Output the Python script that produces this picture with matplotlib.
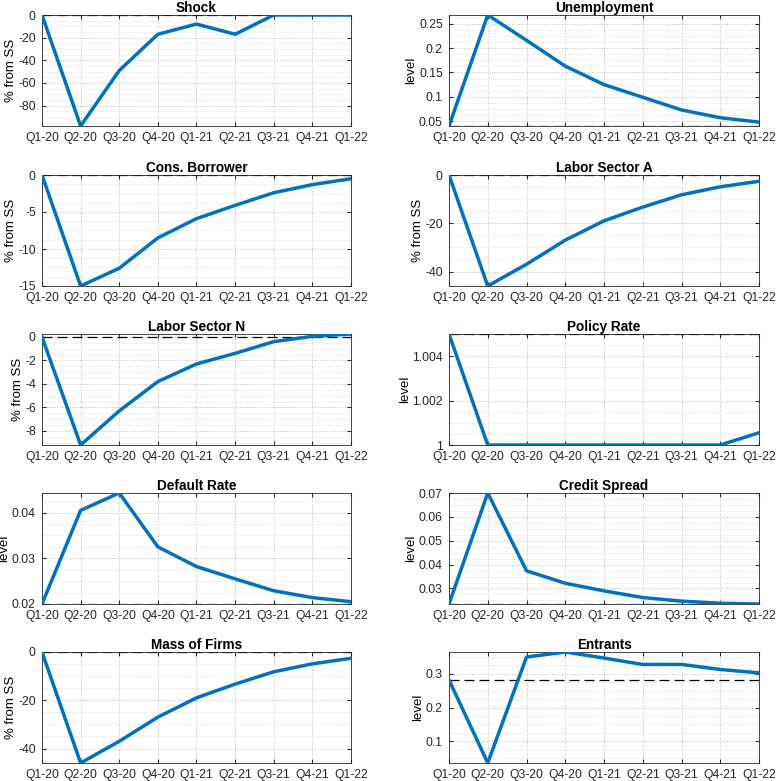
import numpy as np
import matplotlib
matplotlib.use("Agg")
import matplotlib.pyplot as plt
from matplotlib.ticker import AutoMinorLocator

plt.rcParams['font.family'] = ['Liberation Sans', 'DejaVu Sans']
plt.rcParams['font.size'] = 9

quarters = ["Q1-20", "Q2-20", "Q3-20", "Q4-20", "Q1-21", "Q2-21", "Q3-21", "Q4-21", "Q1-22"]

shock = [0, -98, -49, -17, -8, -17, 0, 0, 0]
unemployment = [0.040, 0.268, 0.216, 0.163, 0.125, 0.099, 0.073, 0.057, 0.048]
cons_borrower = [0, -15.0, -12.6, -8.5, -5.9, -4.1, -2.4, -1.3, -0.5]
labor_a = [0, -46, -37, -27, -19, -13.3, -8.2, -4.9, -2.6]
labor_n = [0, -9.2, -6.3, -3.8, -2.3, -1.4, -0.4, 0.05, 0.25]
policy_rate = [1.005, 1.0, 1.0, 1.0, 1.0, 1.0, 1.0, 1.0, 1.00055]
default_rate = [0.0200, 0.0405, 0.0443, 0.0325, 0.0282, 0.0255, 0.0229, 0.0214, 0.0205]
credit_spread = [0.0235, 0.0700, 0.0374, 0.0322, 0.0290, 0.0262, 0.0247, 0.0238, 0.0235]
mass_firms = [0, -46, -37, -27, -19, -13.3, -8.2, -4.9, -2.6]
entrants = [0.282, 0.035, 0.350, 0.365, 0.347, 0.328, 0.328, 0.313, 0.303]

titles = ["Shock", "Unemployment", "Cons. Borrower", "Labor Sector A", "Labor Sector N",
          "Policy Rate", "Default Rate", "Credit Spread", "Mass of Firms", "Entrants"]
series = [shock, unemployment, cons_borrower, labor_a, labor_n,
          policy_rate, default_rate, credit_spread, mass_firms, entrants]
ylabels = ["% from SS", "level", "% from SS", "% from SS", "% from SS",
           "level", "level", "level", "% from SS", "level"]
steady = [0, 0.040, 0, 0, 0, 1.005, 0.020, 0.0235, 0, 0.282]
yticks = [
    [-80, -60, -40, -20, 0],
    [0.05, 0.1, 0.15, 0.2, 0.25],
    [-15, -10, -5, 0],
    [-40, -20, 0],
    [-8, -6, -4, -2, 0],
    [1.0, 1.002, 1.004],
    [0.02, 0.03, 0.04],
    [0.03, 0.04, 0.05, 0.06, 0.07],
    [-40, -20, 0],
    [0.1, 0.2, 0.3],
]
yticklabels = [
    ["-80", "-60", "-40", "-20", "0"],
    ["0.05", "0.1", "0.15", "0.2", "0.25"],
    ["-15", "-10", "-5", "0"],
    ["-40", "-20", "0"],
    ["-8", "-6", "-4", "-2", "0"],
    ["1", "1.002", "1.004"],
    ["0.02", "0.03", "0.04"],
    ["0.03", "0.04", "0.05", "0.06", "0.07"],
    ["-40", "-20", "0"],
    ["0.1", "0.2", "0.3"],
]

W, H = 776, 781
fig = plt.figure(figsize=(W / 100, H / 100), dpi=100)

col_x = [42, 449]
ax_w = [309, 310]
row_top = [15, 175, 334, 493, 652]
ax_h = 111

x = np.arange(len(quarters))
for i, (t, y) in enumerate(zip(titles, series)):
    r, c = divmod(i, 2)
    left = col_x[c] / W
    bottom = 1 - (row_top[r] + ax_h) / H
    ax = fig.add_axes([left, bottom, ax_w[c] / W, ax_h / H])
    ax.axhline(steady[i], color="black", ls=(0, (8, 4)), lw=0.9, zorder=2)
    ax.plot(x, y, color="#0072BD", lw=2.5, zorder=3)
    ax.set_xlim(0, len(quarters) - 1)
    ax.set_ylim(min(y), max(y))
    ax.set_xticks(x)
    ax.set_xticklabels(quarters)
    ax.set_yticks(yticks[i])
    ax.set_yticklabels(yticklabels[i])
    ax.yaxis.set_minor_locator(AutoMinorLocator(4))
    ax.grid(True, which="major", ls=(0, (1, 2)), color="#a8a8a8", lw=0.6)
    ax.grid(True, which="minor", axis="y", ls=(0, (1, 2)), color="#cccccc", lw=0.5)
    ax.set_axisbelow(True)
    ax.tick_params(direction="in", length=3, colors="#262626", labelsize=8.7,
                   top=True, right=True, pad=4.5)
    ax.tick_params(which="minor", length=0)
    for s in ax.spines.values():
        s.set_color("#262626")
        s.set_linewidth(0.6)
    ax.set_title(t, fontweight="bold", fontsize=9.8, pad=2)
    ax.set_ylabel(ylabels[i], fontsize=9.5, labelpad=1)

fig.savefig("out.png", dpi=100)
